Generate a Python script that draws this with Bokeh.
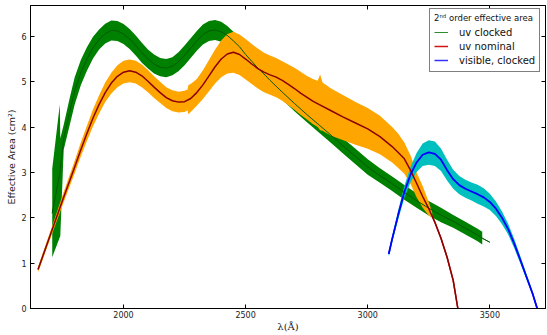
from bokeh.plotting import figure
from bokeh.models import Legend, LegendItem, LinearAxis, Range1d, FixedTicker
from bokeh.embed import file_html
from bokeh.resources import INLINE

# ---------------- uv nominal: center line ----------------
nom_wl = [1650, 1700, 1750, 1800, 1825, 1850, 1875, 1900, 1925, 1950, 1975, 2000, 2025, 2050, 2075,
          2100, 2125, 2150, 2175, 2200, 2225, 2250, 2275, 2300, 2325, 2350, 2375, 2400, 2425, 2450,
          2475, 2500, 2525, 2550, 2575, 2600, 2625, 2650, 2675, 2700, 2725, 2750, 2775, 2800, 2850,
          2900, 2950, 3000, 3050, 3100, 3125, 3150, 3175, 3200, 3225, 3250, 3275, 3300, 3325, 3350,
          3369]
nom_area = [0.86, 1.62, 2.38, 3.12, 3.50, 3.86, 4.20, 4.50, 4.76, 4.97, 5.12, 5.21, 5.24, 5.21, 5.13,
            5.01, 4.88, 4.76, 4.65, 4.58, 4.55, 4.56, 4.63, 4.76, 4.93, 5.13, 5.33, 5.50, 5.61, 5.65,
            5.60, 5.50, 5.39, 5.29, 5.21, 5.15, 5.10, 5.03, 4.94, 4.85, 4.75, 4.66, 4.57, 4.50, 4.36,
            4.22, 4.09, 3.96, 3.79, 3.57, 3.44, 3.30, 3.05, 2.76, 2.47, 2.20, 1.90, 1.55, 1.13, 0.62,
            0.0]
# ---------------- uv nominal: error band ----------------
nomb_wl = [1650, 1700, 1750, 1800, 1825, 1850, 1875, 1900, 1925, 1950, 1975, 2000, 2025, 2050, 2075,
           2100, 2125, 2150, 2175, 2200, 2225, 2250, 2262, 2266, 2275, 2300, 2325, 2350, 2375, 2400,
           2425, 2450, 2475, 2500, 2525, 2550, 2575, 2600, 2625, 2650, 2675, 2700, 2725, 2750, 2775,
           2795, 2805, 2815, 2850, 2900, 2950, 3000, 3050, 3100, 3125, 3150, 3175, 3200, 3225, 3250,
           3264]
nomb_hi = [0.92, 1.70, 2.49, 3.26, 3.66, 4.03, 4.39, 4.70, 4.98, 5.20, 5.36, 5.46, 5.49, 5.46, 5.38,
           5.26, 5.12, 5.00, 4.88, 4.81, 4.78, 4.80, 4.83, 4.93, 4.95, 5.06, 5.25, 5.48, 5.71, 5.91,
           6.05, 6.10, 6.04, 5.94, 5.83, 5.73, 5.64, 5.58, 5.52, 5.45, 5.38, 5.31, 5.22, 5.13, 5.06,
           5.02, 5.16, 4.98, 4.85, 4.70, 4.55, 4.42, 4.25, 4.00, 3.85, 3.66, 3.38, 3.00, 2.70, 2.35,
           2.12]
nomb_lo = [0.80, 1.54, 2.27, 2.98, 3.35, 3.69, 4.02, 4.30, 4.55, 4.74, 4.88, 4.96, 4.99, 4.96, 4.88,
           4.77, 4.64, 4.53, 4.42, 4.35, 4.32, 4.33, 4.37, 4.28, 4.33, 4.47, 4.62, 4.79, 4.96, 5.10,
           5.18, 5.20, 5.15, 5.05, 4.95, 4.85, 4.77, 4.71, 4.66, 4.58, 4.48, 4.38, 4.27, 4.17, 4.07,
           4.00, 3.93, 3.92, 3.81, 3.71, 3.61, 3.52, 3.40, 3.22, 3.10, 2.97, 2.75, 2.45, 2.22, 2.05,
           2.00]

# ---------------- uv clocked: center line ----------------
clk_wl = [1708, 1739, 1755, 1780, 1800, 1825, 1850, 1875, 1900, 1925, 1950, 1975, 2000, 2025, 2050,
          2075, 2100, 2125, 2150, 2175, 2200, 2225, 2250, 2275, 2300, 2325, 2350, 2375, 2400, 2425,
          2450, 2475, 2500, 2525, 2550, 2575, 2600, 2625, 2650, 2700, 2750, 2800, 2850, 2900, 2950,
          3000, 3050, 3100, 3150, 3200, 3250, 3300, 3350, 3400, 3450, 3469, 3500]
clk_area = [2.10, 3.00, 3.75, 4.35, 4.80, 5.20, 5.50, 5.75, 5.93, 6.06, 6.13, 6.12, 6.05, 5.94, 5.80,
            5.64, 5.50, 5.39, 5.32, 5.30, 5.34, 5.44, 5.58, 5.74, 5.90, 6.04, 6.12, 6.14, 6.10, 6.02,
            5.90, 5.77, 5.60, 5.45, 5.30, 5.17, 5.03, 4.90, 4.77, 4.52, 4.28, 4.05, 3.82, 3.58, 3.35,
            3.12, 2.93, 2.75, 2.56, 2.38, 2.21, 2.06, 1.92, 1.77, 1.62, 1.55, 1.46]
# ---------------- uv clocked: error band ----------------
clkb_wl = [1708, 1739, 1741, 1755, 1780, 1800, 1825, 1850, 1875, 1900, 1925, 1950, 1975, 2000, 2025,
           2050, 2075, 2100, 2125, 2150, 2175, 2200, 2225, 2250, 2275, 2300, 2325, 2350, 2375, 2400,
           2425, 2450, 2475, 2500, 2525, 2550, 2575, 2600, 2625, 2650, 2700, 2750, 2800, 2850, 2900,
           2950, 3000, 3050, 3100, 3150, 3200, 3250, 3300, 3350, 3400, 3450, 3469]
clkb_hi = [3.08, 4.50, 3.75, 4.05, 4.65, 5.10, 5.48, 5.76, 5.99, 6.15, 6.28, 6.35, 6.34, 6.27, 6.16,
           6.02, 5.86, 5.71, 5.60, 5.52, 5.50, 5.54, 5.65, 5.80, 5.96, 6.12, 6.26, 6.34, 6.36, 6.32,
           6.23, 6.10, 5.97, 5.80, 5.64, 5.49, 5.35, 5.21, 5.07, 4.94, 4.69, 4.45, 4.22, 3.99, 3.75,
           3.52, 3.29, 3.09, 2.91, 2.72, 2.54, 2.37, 2.22, 2.06, 1.91, 1.76, 1.69]
clkb_lo = [1.13, 1.57, 1.60, 3.50, 4.05, 4.50, 4.92, 5.24, 5.51, 5.71, 5.84, 5.91, 5.90, 5.83, 5.72,
           5.58, 5.42, 5.29, 5.18, 5.12, 5.10, 5.14, 5.23, 5.36, 5.52, 5.68, 5.82, 5.90, 5.92, 5.88,
           5.81, 5.70, 5.57, 5.40, 5.26, 5.11, 4.99, 4.85, 4.73, 4.60, 4.35, 4.11, 3.88, 3.65, 3.41,
           3.18, 2.95, 2.77, 2.59, 2.40, 2.22, 2.05, 1.90, 1.78, 1.63, 1.48, 1.41]

# ---------------- visible, clocked: center line and band ----------------
vis_wl = [3086, 3100, 3125, 3150, 3175, 3200, 3225, 3250, 3275, 3300, 3325, 3350, 3375, 3400, 3425,
          3450, 3475, 3500, 3525, 3550, 3575, 3600, 3625, 3650, 3675, 3694]
vis_area = [1.20, 1.53, 2.07, 2.57, 2.95, 3.22, 3.39, 3.44, 3.41, 3.28, 3.05, 2.85, 2.72, 2.64, 2.58,
            2.52, 2.45, 2.35, 2.20, 2.00, 1.75, 1.43, 1.07, 0.70, 0.33, 0.0]
vis_hi = [1.25, 1.60, 2.17, 2.70, 3.12, 3.43, 3.64, 3.71, 3.68, 3.53, 3.28, 3.06, 2.92, 2.84, 2.78,
          2.73, 2.65, 2.53, 2.36, 2.14, 1.87, 1.53, 1.15, 0.76, 0.37, 0.03]
vis_lo = [1.15, 1.46, 1.97, 2.44, 2.78, 3.01, 3.14, 3.17, 3.14, 3.03, 2.82, 2.64, 2.52, 2.44, 2.38,
          2.31, 2.25, 2.17, 2.04, 1.86, 1.63, 1.33, 0.99, 0.64, 0.29, 0.0]

x_ticks = [2000, 2500, 3000, 3500]
y_ticks = [0, 1, 2, 3, 4, 5, 6]

FONT = "DejaVu Sans"

p = figure(width=547, height=335, x_range=Range1d(1619, 3728), y_range=Range1d(0, 6.68),
           output_backend="svg", toolbar_location=None,
           min_border_left=30, min_border_right=2, min_border_top=5, min_border_bottom=27)
p.grid.visible = False
p.outline_line_color = "black"
p.outline_line_width = 1
p.background_fill_color = "white"
p.border_fill_color = "white"

bottom = p.below[0]
left = p.left[0]

# legend proxies (drawn first, hidden under the real marks)
lg = p.line(clk_wl, clk_area, line_color="#2e8b2e", line_width=1)
lr = p.line(nom_wl, nom_area, line_color="#d01515", line_width=1.5)
lb = p.line(vis_wl, vis_area, line_color="#3333ff", line_width=1.5)

# bands
p.varea(x=clkb_wl, y1=clkb_lo, y2=clkb_hi, fill_color="#008000")
p.varea(x=nomb_wl, y1=nomb_lo, y2=nomb_hi, fill_color="#ffa500")
p.varea(x=vis_wl, y1=vis_lo, y2=vis_hi, fill_color="#00bfbf")
# lines
p.line(clk_wl, clk_area, line_color="#005a00", line_width=1)
p.line(nom_wl, nom_area, line_color="#8b0000", line_width=1.5)
p.line(vis_wl, vis_area, line_color="#0000ff", line_width=1.8)

bottom.ticker = FixedTicker(ticks=x_ticks)
left.ticker = FixedTicker(ticks=y_ticks)
top = LinearAxis(ticker=FixedTicker(ticks=x_ticks))
right = LinearAxis(ticker=FixedTicker(ticks=y_ticks))
p.add_layout(top, "above")
p.add_layout(right, "right")

for ax in [bottom, left, top, right]:
    ax.major_tick_in = 4
    ax.major_tick_out = 0
    ax.minor_tick_in = 0
    ax.minor_tick_out = 0
    ax.axis_line_color = "black"
    ax.major_tick_line_color = "black"
    ax.major_label_text_font = FONT
    ax.major_label_text_color = "#222222"
    ax.major_label_text_font_size = "8px"
    ax.major_label_standoff = 4

bottom.major_label_standoff = 2
top.major_label_text_font_size = "0px"
top.major_label_standoff = 0
top.major_label_overrides = {t: "" for t in x_ticks}
right.major_label_text_font_size = "0px"
right.major_label_standoff = 0
right.major_label_overrides = {t: "" for t in y_ticks}

bottom.axis_label = "λ(Å)"
bottom.axis_label_text_font = "DejaVu Serif"
bottom.axis_label_text_font_size = "10px"
bottom.axis_label_text_font_style = "normal"
bottom.axis_label_text_color = "#222222"
bottom.axis_label_standoff = 0

left.axis_label = "Effective Area (cm²)"
left.axis_label_text_font = FONT
left.axis_label_text_font_size = "9.5px"
left.axis_label_text_font_style = "normal"
left.axis_label_text_color = "#222222"
left.axis_label_standoff = 1

legend = Legend(items=[LegendItem(label="uv clocked", renderers=[lg]),
                       LegendItem(label="uv nominal", renderers=[lr]),
                       LegendItem(label="visible, clocked", renderers=[lb])],
                location=(399, 236), title="2ⁿᵈ order effective area",
                title_text_font=FONT, title_text_font_size="8.5px", title_text_font_style="normal",
                title_text_color="#111111",
                title_standoff=2,
                label_text_font=FONT, label_text_font_size="10px", label_text_color="#111111",
                glyph_width=14, glyph_height=14, label_height=14, label_standoff=11,
                spacing=0, padding=4, margin=0,
                border_line_color="black", border_line_width=1,
                background_fill_alpha=1.0)
p.add_layout(legend)

open("out.html", "w").write(file_html(p, INLINE))
